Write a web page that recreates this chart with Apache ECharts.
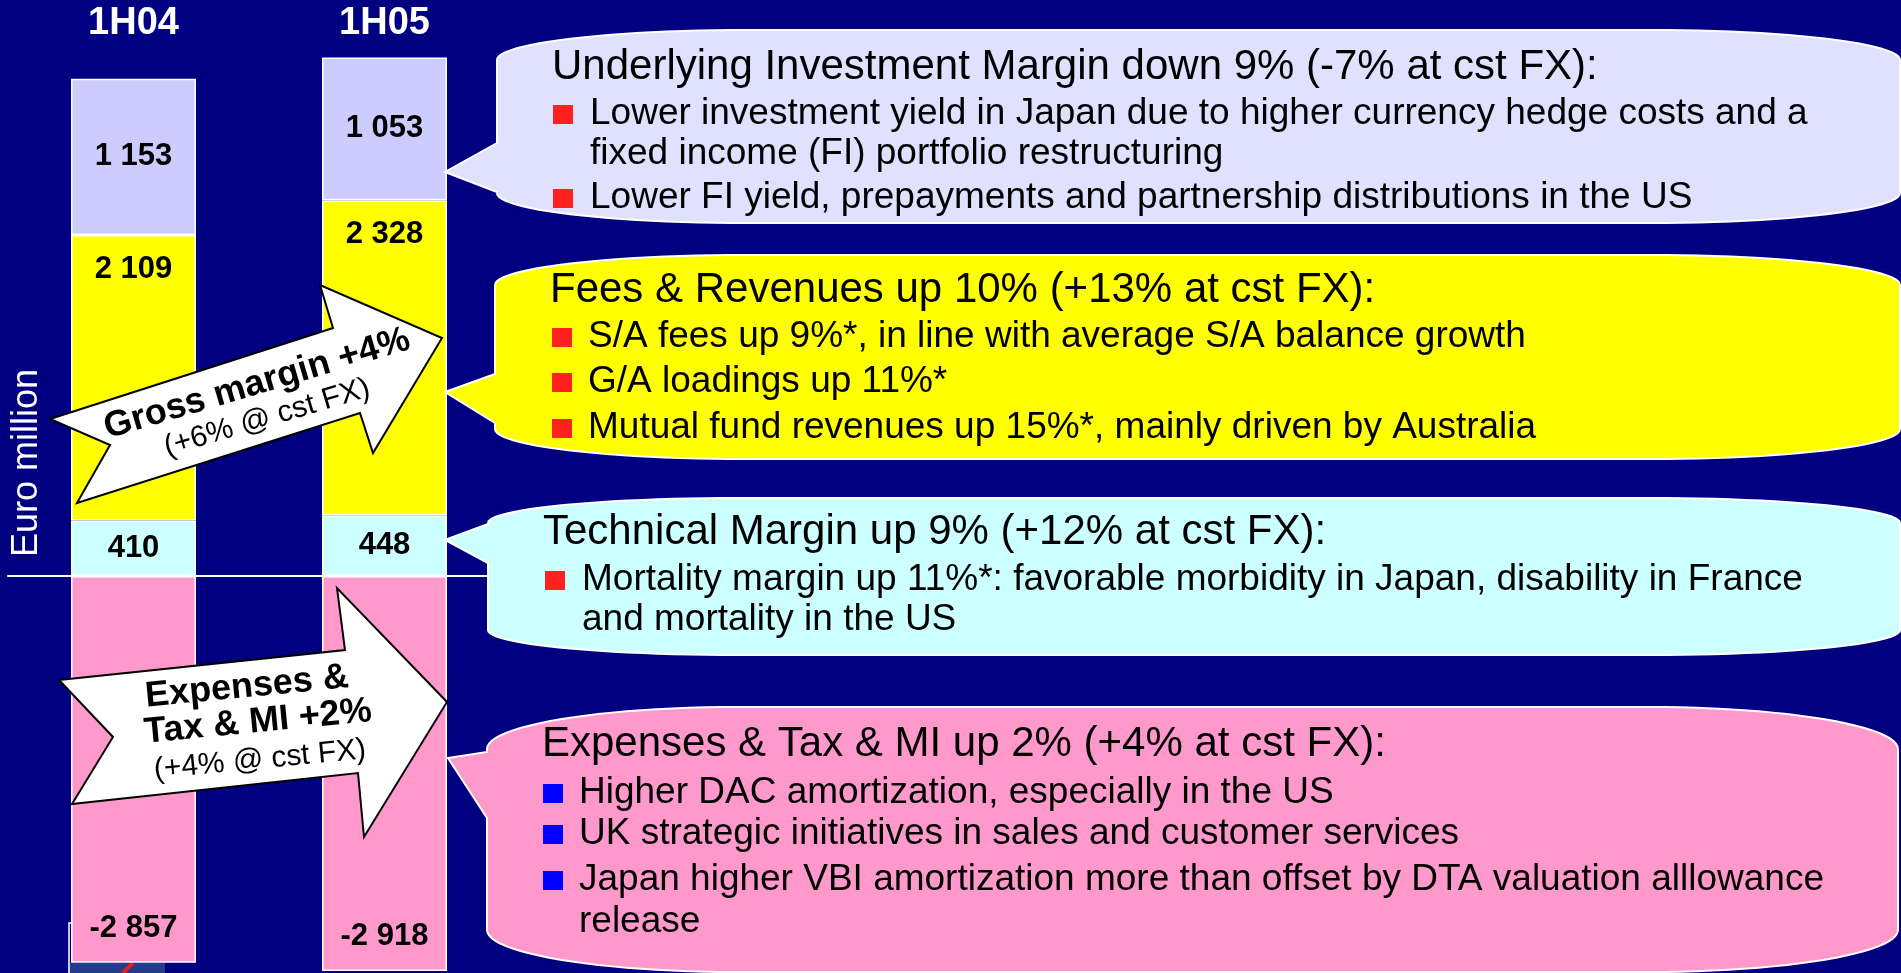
<!DOCTYPE html>
<html><head><meta charset="utf-8">
<script src="https://cdn.jsdelivr.net/npm/echarts@6/dist/echarts.min.js"></script>
<style>html,body{margin:0;padding:0;background:#000080;overflow:hidden;}#c{width:1901px;height:973px;}</style>
</head><body><div id="c"></div>
<script>
// ---- data ----
const categories = ['1H04', '1H05'];
const technicalMargin = [410, 448];
const feesRevenues = [2109, 2328];
const investmentMargin = [1153, 1053];
const expensesTaxMI = [-2857, -2918];
const axisTitle = 'Euro million';

const calloutInvest = ['Underlying Investment Margin down 9% (-7% at cst FX):',
  'Lower investment yield in Japan due to higher currency hedge costs and a',
  'fixed income (FI) portfolio restructuring',
  'Lower FI yield, prepayments and partnership distributions in the US'];
const calloutFees = ['Fees & Revenues up 10% (+13% at cst FX):',
  'S/A fees up 9%*, in line with average S/A balance growth',
  'G/A loadings up 11%*',
  'Mutual fund revenues up 15%*, mainly driven by Australia'];
const calloutTech = ['Technical Margin up 9% (+12% at cst FX):',
  'Mortality margin up 11%*: favorable morbidity in Japan, disability in France',
  'and mortality in the US'];
const calloutExp = ['Expenses & Tax & MI up 2% (+4% at cst FX):',
  'Higher DAC amortization, especially in the US',
  'UK strategic initiatives in sales and customer services',
  'Japan higher VBI amortization more than offset by DTA valuation alllowance',
  'release'];
const arrowGross = ['Gross margin +4%', '(+6% @ cst FX)'];
const arrowExp = ['Expenses &', 'Tax & MI +2%', '(+4% @ cst FX)'];

// ---- helpers ----
const FONT = '"Liberation Sans", Arial, Helvetica, sans-serif';
function fmt(v) {
  const s = String(Math.abs(v)).replace(/\B(?=(\d{3})+(?!\d))/g, ' ');
  return (v < 0 ? '-' : '') + s;
}
function arc(pts, cx, cy, rx, ry, a0, a1) {
  const n = 24;
  for (let i = 0; i <= n; i++) {
    const a = a0 + (a1 - a0) * i / n;
    pts.push([cx + rx * Math.cos(a), cy + ry * Math.sin(a)]);
  }
}
function bubble(b) {
  const P = Math.PI, pts = [];
  arc(pts, b.x0 + b.rx, b.y0 + b.ry, b.rx, b.ry, P, 1.5 * P);
  arc(pts, b.x1 - b.rx, b.y0 + b.ry, b.rx, b.ry, 1.5 * P, 2 * P);
  arc(pts, b.x1 - b.rx, b.y1 - b.ry, b.rx, b.ry, 0, 0.5 * P);
  arc(pts, b.x0 + b.rx, b.y1 - b.ry, b.rx, b.ry, 0.5 * P, P);
  pts.push([b.x0, b.pBot], [b.tipX, b.tipY], [b.x0, b.pTop]);
  return { type: 'polygon', z: 100, shape: { points: pts },
    style: { fill: b.fill, stroke: '#ffffff', lineWidth: 2 } };
}
function txt(x, baseline, text, fs, weight) {
  return { type: 'text', z: 101, x: x, y: baseline - 0.3465 * fs,
    style: { text: text, fill: '#000', fontSize: fs, fontWeight: weight || 'normal', fontFamily: FONT,
      align: 'left', verticalAlign: 'middle', textAlign: 'left', textVerticalAlign: 'middle' } };
}
function sq(x, baseline, color) {
  return { type: 'rect', z: 101, shape: { x: x, y: baseline - 22, width: 20, height: 19 },
    style: { fill: color } };
}
function ctxt(x, y, rot, text, fs, weight) {
  return { type: 'text', z: 103, x: x, y: y, rotation: rot,
    style: { text: text, fill: '#000', fontSize: fs, fontWeight: weight, fontFamily: FONT,
      align: 'center', verticalAlign: 'middle', textAlign: 'center', textVerticalAlign: 'middle' } };
}

const RED = '#FF2020', BLUE = '#0000FF';
const TS = 42, BS = 37;
const graphics = [];
// callout bubbles
graphics.push(bubble({ x0: 497, y0: 30, x1: 1900, y1: 223, rx: 250, ry: 30, pTop: 143, pBot: 192, tipX: 445, tipY: 172, fill: '#E0E0FF' }));
graphics.push(bubble({ x0: 495, y0: 255, x1: 1900, y1: 459, rx: 250, ry: 30, pTop: 374, pBot: 423, tipX: 445, tipY: 392, fill: '#FFFF00' }));
graphics.push(bubble({ x0: 488, y0: 498, x1: 1900, y1: 655, rx: 250, ry: 25, pTop: 524, pBot: 563, tipX: 445, tipY: 540, fill: '#CCFFFF' }));
graphics.push(bubble({ x0: 487, y0: 707, x1: 1898, y1: 972, rx: 250, ry: 42, pTop: 752, pBot: 818, tipX: 448, tipY: 758, fill: '#FF99CC' }));

// bubble 1 text
graphics.push(txt(552, 82, calloutInvest[0], TS));
graphics.push(sq(553, 127, RED), txt(590, 127, calloutInvest[1], BS));
graphics.push(txt(590, 167, calloutInvest[2], BS));
graphics.push(sq(553, 211, RED), txt(590, 211, calloutInvest[3], BS));
// bubble 2 text
graphics.push(txt(550, 305, calloutFees[0], TS));
graphics.push(sq(552, 350, RED), txt(588, 350, calloutFees[1], BS));
graphics.push(sq(552, 395, RED), txt(588, 395, calloutFees[2], BS));
graphics.push(sq(552, 441, RED), txt(588, 441, calloutFees[3], BS));
// bubble 3 text
graphics.push(txt(543, 547, calloutTech[0], TS));
graphics.push(sq(545, 593, RED), txt(582, 593, calloutTech[1], BS));
graphics.push(txt(582, 633, calloutTech[2], BS));
// bubble 4 text
graphics.push(txt(542, 759, calloutExp[0], TS));
graphics.push(sq(543, 806, BLUE), txt(579, 806, calloutExp[1], BS));
graphics.push(sq(543, 847, BLUE), txt(579, 847, calloutExp[2], BS));
graphics.push(sq(543, 893, BLUE), txt(579, 893, calloutExp[3], BS));
graphics.push(txt(579, 935, calloutExp[4], BS));

// arrows
graphics.push({ type: 'polygon', z: 102, shape: { points: [[50,419],[333,328],[320,285],[442,338],[373,453],[360,413],[77,503],[110,445]] },
  style: { fill: '#ffffff', stroke: '#000000', lineWidth: 2, lineJoin: 'miter' } });
graphics.push(ctxt(257, 384, 0.288, arrowGross[0], 36, 'bold'));
graphics.push(ctxt(267, 418, 0.288, arrowGross[1], 30, 'normal'));
graphics.push({ type: 'polygon', z: 102, shape: { points: [[59,680],[345,650],[337,588],[447,702],[364,837],[358,773],[72,804],[113,737]] },
  style: { fill: '#ffffff', stroke: '#000000', lineWidth: 2, lineJoin: 'miter' } });
graphics.push(ctxt(247, 687, 0.096, arrowExp[0], 36, 'bold'));
graphics.push(ctxt(258, 722, 0.096, arrowExp[1], 36, 'bold'));
graphics.push(ctxt(260, 760, 0.096, arrowExp[2], 30, 'normal'));

// partial logo at bottom-left
graphics.push({ type: 'rect', z: 1, shape: { x: 68, y: 963, width: 97, height: 10 }, style: { fill: '#253C8C' } });
graphics.push({ type: 'polyline', z: 1, shape: { points: [[69,973],[69,923],[73,923]] }, style: { stroke: '#ffffff', lineWidth: 1.5, fill: null } });
graphics.push({ type: 'line', z: 2, shape: { x1: 123, y1: 973, x2: 133, y2: 963 }, style: { stroke: '#E02020', lineWidth: 4 } });

const labelBase = { show: true, color: '#000', fontSize: 31, fontWeight: 'bold', fontFamily: FONT,
  textBorderWidth: 0, formatter: p => fmt(p.value) };
const barBase = { type: 'bar', stack: 'total', barWidth: 125, xAxisIndex: 0, yAxisIndex: 0 };

const option = {
  backgroundColor: '#000080',
  animation: false,
  grid: { left: 8, width: 502, top: 48, bottom: 0, containLabel: false, outerBoundsMode: 'none' },
  xAxis: [
    { type: 'category', data: categories, position: 'bottom',
      axisLine: { show: true, onZero: true, lineStyle: { color: '#ffffff', width: 2 } },
      axisTick: { show: false }, axisLabel: { show: false }, splitLine: { show: false } },
    { type: 'category', data: categories, position: 'top',
      axisLine: { show: false, onZero: false }, axisTick: { show: false }, splitLine: { show: false },
      axisLabel: { show: true, color: '#ffffff', fontSize: 38, fontWeight: 'bold', fontFamily: FONT,
        margin: 24, verticalAlign: 'middle' } }
  ],
  yAxis: { type: 'value', min: -2932, max: 3900,
    axisLine: { show: false }, axisTick: { show: false }, axisLabel: { show: false }, splitLine: { show: false },
    name: axisTitle, nameLocation: 'middle', nameGap: -37,
    nameTextStyle: { color: '#ffffff', fontSize: 36, fontFamily: FONT, padding: [0, 0, 0, 95] } },
  series: [
    Object.assign({}, barBase, { name: 'Technical margin', data: technicalMargin,
      itemStyle: { color: '#CCFFFF', borderColor: '#ffffff', borderWidth: 1.5 },
      label: Object.assign({}, labelBase, { position: 'inside' }) }),
    Object.assign({}, barBase, { name: 'Fees & Revenues', data: feesRevenues,
      itemStyle: { color: '#FFFF00', borderColor: '#ffffff', borderWidth: 1.5 },
      label: Object.assign({}, labelBase, { position: 'insideTop', distance: 19 }) }),
    Object.assign({}, barBase, { name: 'Investment margin', data: investmentMargin,
      itemStyle: { color: '#CCCCFF', borderColor: '#ffffff', borderWidth: 1.5 },
      label: Object.assign({}, labelBase, { position: 'inside' }) }),
    Object.assign({}, barBase, { name: 'Expenses & Tax & MI', data: expensesTaxMI,
      itemStyle: { color: '#FF99CC', borderColor: '#ffffff', borderWidth: 1.5 },
      label: Object.assign({}, labelBase, { position: 'insideBottom', distance: 19 }) })
  ],
  graphic: graphics
};
const chart = echarts.init(document.getElementById('c'), null, { renderer: 'canvas' });
chart.setOption(option);
</script></body></html>
